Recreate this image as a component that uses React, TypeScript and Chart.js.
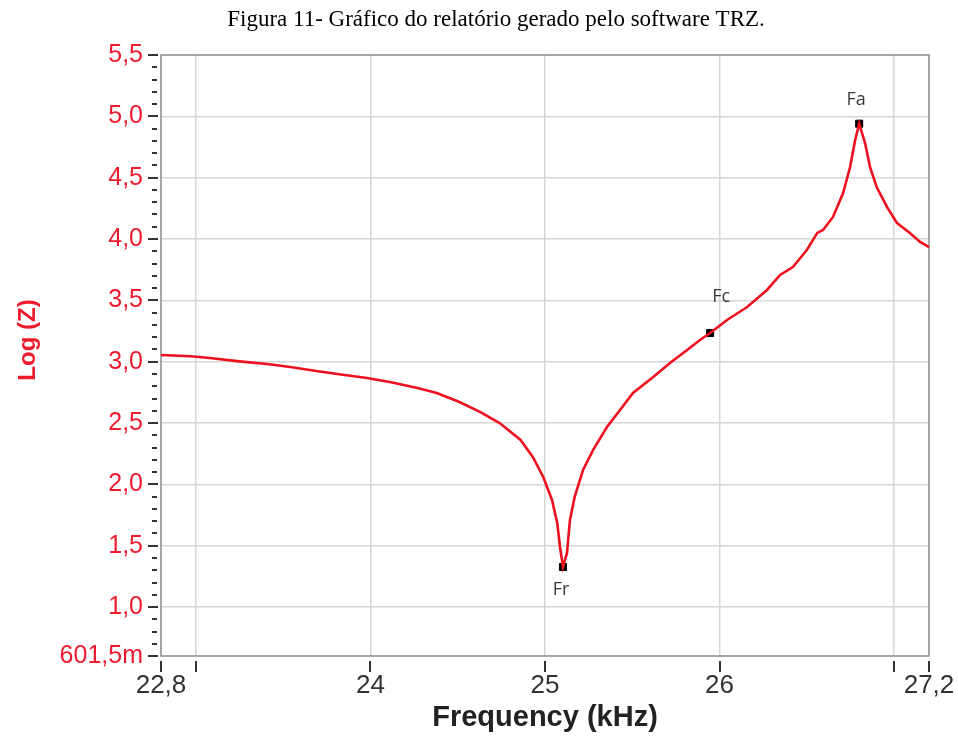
import React, { useEffect, useRef } from 'react';
import { Chart, registerables } from 'chart.js';
Chart.register(...registerables);

const titleText = 'Figura 11- Gráfico do relatório gerado pelo software TRZ.';
const xAxisTitle = 'Frequency (kHz)';
const yAxisTitle = 'Log (Z)';

const freqKHz = [
  22.8, 22.97, 23.08, 23.235, 23.42, 23.54, 23.69, 23.81, 23.98,
  24.11, 24.27, 24.38, 24.51, 24.63, 24.74, 24.86, 24.93, 24.99, 25.04,
  25.07, 25.086, 25.103, 25.126, 25.143, 25.17, 25.218, 25.275, 25.355, 25.43,
  25.504, 25.62, 25.716, 25.814, 25.888, 25.946, 26.043, 26.158, 26.272, 26.347,
  26.42, 26.5, 26.56, 26.593, 26.65, 26.708, 26.748, 26.777, 26.8, 26.834,
  26.862, 26.9, 26.96, 27.017, 27.09, 27.149, 27.2,
];
const logZ = [
  3.055, 3.045, 3.03, 3.005, 2.98, 2.957, 2.925, 2.9, 2.868,
  2.835, 2.786, 2.745, 2.672, 2.59, 2.5, 2.362, 2.224, 2.061, 1.873,
  1.686, 1.49, 1.327, 1.44, 1.71, 1.898, 2.118, 2.28, 2.468, 2.607,
  2.745, 2.876, 2.99, 3.096, 3.177, 3.234, 3.34, 3.446, 3.585, 3.707,
  3.772, 3.911, 4.05, 4.074, 4.18, 4.375, 4.587, 4.807, 4.94, 4.78,
  4.587, 4.424, 4.26, 4.13, 4.05, 3.976, 3.935,
];

const markerNames = ['Fr', 'Fc', 'Fa'];
const markerFreq = [25.103, 25.946, 26.8];
const markerLogZ = [1.327, 3.234, 4.94];

const yTickValues = [0.6015, 1.0, 1.5, 2.0, 2.5, 3.0, 3.5, 4.0, 4.5, 5.0, 5.5];
const yTickLabels = ['601,5m', '1,0', '1,5', '2,0', '2,5', '3,0', '3,5', '4,0', '4,5', '5,0', '5,5'];
const xTickValues = [22.8, 23, 24, 25, 26, 27, 27.2];
const xTickLabels = ['22,8', '', '24', '25', '26', '', '27,2'];

const RED = '#ec1c2e';

export default function App() {
  const ref = useRef<HTMLCanvasElement>(null);

  useEffect(() => {
    document.body.style.margin = '0';
    const canvas = ref.current;
    if (!canvas) return;

    const overlay = {
      id: 'overlay',
      beforeDatasetsDraw(chart: any) {
        const { ctx, chartArea } = chart;
        ctx.save();
        ctx.strokeStyle = '#8a8a8a';
        ctx.lineWidth = 1.5;
        ctx.strokeRect(chartArea.left, chartArea.top, chartArea.right - chartArea.left, chartArea.bottom - chartArea.top);
        ctx.restore();
      },
      afterDraw(chart: any) {
        const { ctx, chartArea, scales } = chart;
        const xs = scales.x;
        const ys = scales.y;
        ctx.save();
        // title
        ctx.fillStyle = '#000';
        ctx.font = '23px "Liberation Serif", "Times New Roman", serif';
        ctx.textAlign = 'center';
        ctx.textBaseline = 'alphabetic';
        ctx.fillText(titleText, 496, 26);
        // y axis title
        ctx.save();
        ctx.translate(28, 340);
        ctx.rotate(-Math.PI / 2);
        ctx.fillStyle = RED;
        ctx.font = 'bold 24px "Liberation Sans", Arial, sans-serif';
        ctx.textAlign = 'center';
        ctx.textBaseline = 'middle';
        ctx.fillText(yAxisTitle, 0, 0);
        ctx.restore();
        // y tick dashes (major + minor)
        ctx.fillStyle = '#333';
        const ax = chartArea.left;
        for (let i = 7; i <= 54; i++) {
          const v = i / 10;
          const py = Math.round(ys.getPixelForValue(v));
          const major = i % 5 === 0;
          if (major) ctx.fillRect(ax - 13, py - 1, 10, 2);
          else ctx.fillRect(ax - 9, py - 1, 5, 2);
        }
        for (const v of [0.6015, 5.5]) {
          const py = Math.round(ys.getPixelForValue(v));
          ctx.fillRect(ax - 13, py - 1, 10, 2);
        }
        // x tick dashes
        const by = chartArea.bottom;
        for (const v of xTickValues) {
          const px = Math.round(xs.getPixelForValue(v));
          ctx.fillRect(px - 1, by + 5, 2, 11);
        }
        // marker labels
        const meta = chart.getDatasetMeta(1);
        const offsets = [[-2, 23], [11, -36], [-3, -24]];
        ctx.fillStyle = '#3a3a3a';
        ctx.font = '18px "Open Sans", "Noto Sans", sans-serif';
        ctx.textAlign = 'center';
        ctx.textBaseline = 'middle';
        meta.data.forEach((pt: any, i: number) => {
          ctx.fillText(markerNames[i], pt.x + offsets[i][0], pt.y + offsets[i][1]);
        });
        ctx.restore();
      },
    };

    const chart = new Chart(canvas, {
      type: 'scatter',
      data: {
        datasets: [
          {
            label: 'Log (Z)',
            data: freqKHz.map((f, i) => ({ x: f, y: logZ[i] })),
            showLine: true,
            borderColor: '#ee0f1f',
            borderWidth: 2.6,
            pointRadius: 0,
            tension: 0,
          },
          {
            label: 'markers',
            data: markerFreq.map((f, i) => ({ x: f, y: markerLogZ[i] })),
            showLine: false,
            pointStyle: 'rect',
            pointRadius: 5,
            backgroundColor: '#000',
            borderColor: '#000',
            borderWidth: 1,
          },
        ],
      },
      plugins: [overlay],
      options: {
        animation: false,
        responsive: false,
        devicePixelRatio: 1,
        layout: { padding: { left: 0, right: 29, top: 55, bottom: 0 } },
        plugins: {
          legend: { display: false },
          title: { display: false },
          tooltip: { enabled: false },
        },
        scales: {
          x: {
            type: 'linear',
            min: 22.8,
            max: 27.2,
            afterFit: (s: any) => { s.height = 84; s.paddingLeft = 0; s.paddingRight = 0; },
            afterBuildTicks: (s: any) => { s.ticks = xTickValues.map((v) => ({ value: v })); },
            ticks: {
              autoSkip: false,
              maxRotation: 0,
              padding: 14,
              color: '#333',
              font: { family: '"Liberation Sans", Arial, sans-serif', size: 26 },
              callback: (_v: any, i: number) => xTickLabels[i],
            },
            grid: {
              drawTicks: false,
              lineWidth: 1.5,
              color: (c: any) => (c.tick && (c.tick.value === 22.8 || c.tick.value === 27.2) ? 'rgba(0,0,0,0)' : '#d6d6d6'),
            },
            border: { display: false },
            title: {
              display: true,
              text: xAxisTitle,
              color: '#222',
              font: { family: '"Liberation Sans", Arial, sans-serif', size: 29, weight: 'bold' },
              padding: { top: 0, bottom: 5 },
            },
          },
          y: {
            type: 'linear',
            min: 0.6015,
            max: 5.5,
            afterFit: (s: any) => { s.width = 161; s.paddingTop = 0; s.paddingBottom = 0; },
            afterBuildTicks: (s: any) => { s.ticks = yTickValues.map((v) => ({ value: v })); },
            ticks: {
              autoSkip: false,
              padding: 18,
              color: RED,
              font: { family: '"Liberation Sans", Arial, sans-serif', size: 25 },
              callback: (_v: any, i: number) => yTickLabels[i],
            },
            grid: {
              drawTicks: false,
              lineWidth: 1.5,
              color: (c: any) => (c.tick && (c.tick.value === 0.6015 || c.tick.value === 5.5) ? 'rgba(0,0,0,0)' : '#d6d6d6'),
            },
            border: { display: false },
          },
        },
      },
    });
    return () => chart.destroy();
  }, []);

  return (
    <div style={{ width: 958, height: 740, background: '#fff' }}>
      <canvas ref={ref} width={958} height={740} style={{ display: 'block' }} />
    </div>
  );
}
